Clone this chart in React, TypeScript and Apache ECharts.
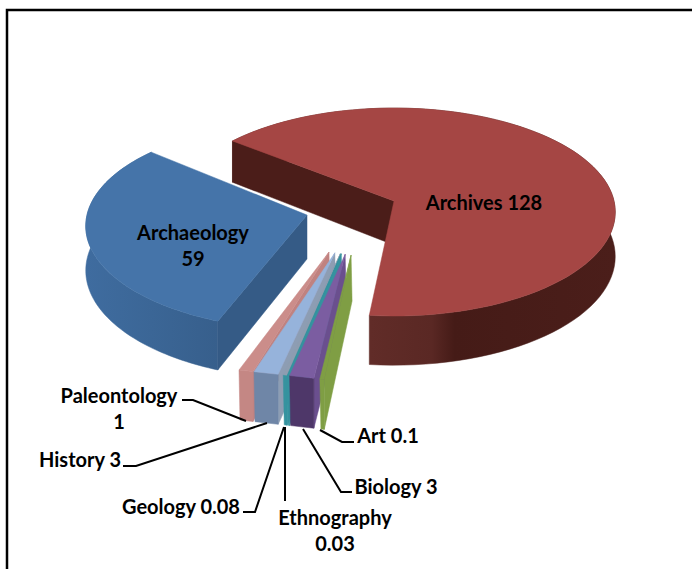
import React, { useEffect, useRef } from "react";
import * as echarts from "echarts";

const names = ["Archives", "Archaeology", "Paleontology", "History", "Geology", "Ethnography", "Biology", "Art"];
const values = [128, 59, 1, 3, 0.08, 0.03, 3, 0.1];

const FONT = "Lato";
const topColors = ["#A54644", "#4574A9", "#CB8D8A", "#96B3DB", "#8E9DB0", "#35939F", "#7B5DA1", "#7F9E44"];
const wallColors = ["#4B1D19", "#355B86", "#C08280", "#8D9DB3", "#35939F", "#35939F", "#6A4F8E", "#7F9E44"];
const frontColors = ["#4B1D19", "#39638F", "#C48784", "#6F86A7", "#35939F", "#35939F", "#4E3769", "#7F9E44"];
const fanGaps = [1, 5, 0, 0, 6, 0];

const labels = [
  { lines: ["Archives 128"], x: 484, y: 202 },
  { lines: ["Archaeology", "59"], x: 193, y: 232 },
  { lines: ["Paleontology", "1"], x: 119, y: 395 },
  { lines: ["History 3"], x: 80, y: 459 },
  { lines: ["Geology 0.08"], x: 181, y: 506 },
  { lines: ["Ethnography", "0.03"], x: 335, y: 517 },
  { lines: ["Biology 3"], x: 396, y: 486 },
  { lines: ["Art 0.1"], x: 388, y: 435 },
];
const leaders: (number[][] | null)[] = [
  null,
  null,
  [[182, 400], [193, 400], [246, 421]],
  [[123, 466], [136, 466], [267, 423]],
  [[243, 512], [255, 512], [284, 427]],
  [[285, 427], [285, 501]],
  [[303, 429], [341, 492], [352, 492]],
  [[320, 430], [342, 442], [354, 442]],
];

const total = values.reduce((a, b) => a + b, 0);
const START = -51.5; // clockwise from the back of the pie, where Archives begins
const ARCHAEOLOGY_TURN = 2.3;
const PIE = { R: 220, ry: 102.8, p: 0.106, depth: 44 };
const CENTERS = [
  { x: 394, y: 201 },
  { x: 307, y: 215 },
];
const FAN = { left: 239, unit: 14, apexX: 329, apexY: 252, rimY: 370, depth: 50 };

function project(c: { x: number; y: number }, deg: number) {
  const a = (deg * Math.PI) / 180;
  const u = Math.sin(a);
  const v = -Math.cos(a);
  const f = 1 / (1 - PIE.p * v);
  return { x: c.x + PIE.R * u * f, y: c.y + PIE.ry * v * f, d: PIE.depth * f };
}

function poly(points: number[][], fill: any) {
  return { type: "polygon", shape: { points }, style: { fill, stroke: fill, lineWidth: 0.5 }, silent: true };
}

function bigSlice(index: number, from: number, to: number) {
  const c = CENTERS[index];
  const rim: { x: number; y: number; d: number }[] = [];
  const steps = 90;
  for (let i = 0; i <= steps; i++) rim.push(project(c, from + ((to - from) * i) / steps));
  const first = rim[0];
  const top = rim.map((p) => [p.x, p.y]);
  const bottom = rim.map((p) => [p.x, p.y + p.d]).reverse();
  const wallFill =
    index === 0
      ? new echarts.graphic.LinearGradient(0, 0, 1, 0, [
          { offset: 0, color: "#612C28" },
          { offset: 0.36, color: "#612C28" },
          { offset: 0.52, color: "#5A2824" },
          { offset: 0.58, color: "#451B17" },
          { offset: 1, color: "#4B1E1A" },
        ])
      : new echarts.graphic.LinearGradient(0, 0, 1, 0, [
          { offset: 0, color: "#3F6C9F" },
          { offset: 0.5, color: "#3B6696" },
          { offset: 1, color: "#375F8C" },
        ]);
  const ad = PIE.depth;
  return [
    poly([...top, ...bottom], wallFill),
    poly([[first.x, first.y], [c.x, c.y], [c.x, c.y + ad], [first.x, first.y + first.d]], wallColors[index]),
    poly([[c.x, c.y], ...top], topColors[index]),
  ];
}

function fanSlice(fanIndex: number) {
  let x = FAN.left;
  for (let i = 0; i < fanIndex; i++) x += FAN.unit * Math.sqrt(values[i + 2]) + fanGaps[i];
  const w = FAN.unit * Math.sqrt(values[fanIndex + 2]);
  const rimY = (px: number) => FAN.rimY + (px - FAN.left) * 0.11;
  const L = [x, rimY(x)];
  const R = [x + w, rimY(x + w)];
  const ax = FAN.apexX + (x + w / 2 - FAN.left - 7) * 0.29;
  const ay = FAN.apexY + (ax - FAN.apexX) * 0.14;
  const i = fanIndex + 2;
  return [
    poly([[ax, ay], [ax + 1, ay + 46], [R[0], R[1] + FAN.depth], R], wallColors[i]),
    poly([L, R, [R[0], R[1] + FAN.depth], [L[0] + 1, L[1] + FAN.depth]], frontColors[i]),
    poly([[ax, ay], L, R], topColors[i]),
  ];
}

function renderItem(params: any) {
  const i = params.dataIndex;
  const archiveSweep = (values[0] / total) * 360;
  const archaeoSweep = (values[1] / total) * 360;
  let children: any[];
  if (i === 0) children = bigSlice(0, START, START + archiveSweep);
  else if (i === 1) children = bigSlice(1, START - archaeoSweep + ARCHAEOLOGY_TURN, START + ARCHAEOLOGY_TURN);
  else children = fanSlice(i - 2);
  const lead = leaders[i];
  if (lead) {
    children.push({
      type: "polyline",
      shape: { points: lead },
      style: { stroke: "#000", lineWidth: 2, fill: "none" },
      silent: true,
    });
  }
  const lab = labels[i];
  lab.lines.forEach((t, k) => {
    children.push({
      type: "text",
      silent: true,
      style: {
        text: t,
        x: lab.x,
        y: lab.y + k * 25.5,
        align: "center",
        verticalAlign: "middle",
        font: `bold 20px ${FONT}`,
        fill: "#000",
      },
    });
  });
  return { type: "group", children };
}

export default function App() {
  const ref = useRef<HTMLDivElement>(null);
  useEffect(() => {
    const chart = echarts.init(ref.current!, undefined, { renderer: "svg" });
    chart.setOption({
      animation: false,
      backgroundColor: "#fff",
      graphic: [
        {
          type: "rect",
          shape: { x: 7, y: 10, width: 700, height: 600 },
          style: { fill: "none", stroke: "#000", lineWidth: 2.5 },
          silent: true,
          z: -1,
        },
      ],
      series: [
        {
          type: "custom",
          coordinateSystem: "none",
          renderItem,
          data: names.map((name, i) => ({ name, value: [values[i]] })),
          z: 2,
        },
      ],
    });
    return () => chart.dispose();
  }, []);
  return <div ref={ref} style={{ position: "fixed", left: 0, top: 0, width: 692, height: 569 }} />;
}
